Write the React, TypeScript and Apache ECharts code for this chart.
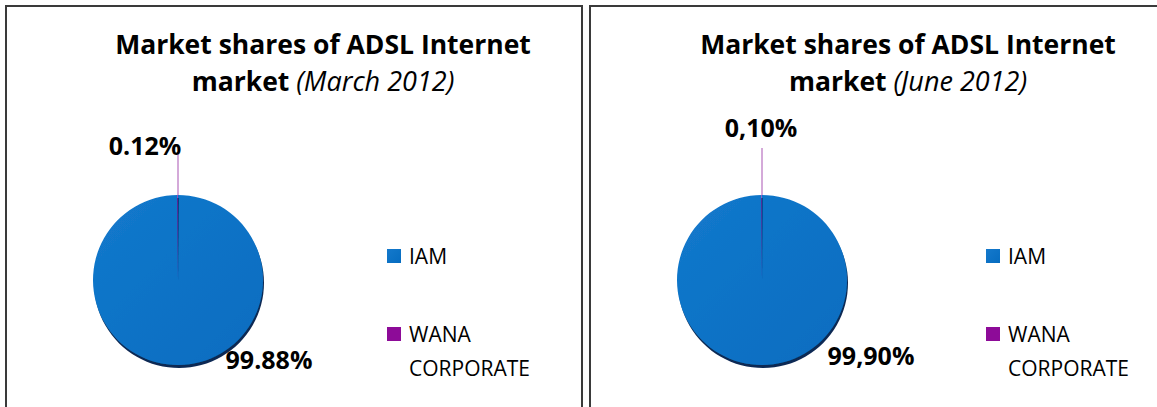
import React, { useEffect, useRef } from 'react';
import * as echarts from 'echarts';

const categories = ['IAM', 'WANA CORPORATE'];
const marchValues = [99.88, 0.12];
const juneValues = [99.9, 0.1];
const sliceColors = ['#0a71c6', '#8d0b98'];
const titleLine1 = 'Market shares of ADSL Internet';
const titleBold2 = 'market';
const periods = ['(March 2012)', '(June 2012)'];
const decimalSeparators = ['.', ','];

const FONT = '"Open Sans", Lato, sans-serif';

const panels = [
  { values: marchValues, period: periods[0], sep: decimalSeparators[0], titleX: 318, cx: 178, legendX: 387, wanaDx: -33, wanaDy: -50, lineLen: 41, iamDx: 91, iamDy: 78 },
  { values: juneValues, period: periods[1], sep: decimalSeparators[1], titleX: 903, cx: 762, legendX: 986, wanaDx: -1, wanaDy: -68, lineLen: 47, iamDx: 109, iamDy: 74 },
];

export default function App() {
  const ref = useRef<HTMLDivElement>(null);
  useEffect(() => {
    if (!ref.current) return;
    const chart = echarts.init(ref.current, undefined, { renderer: 'svg' });
    const option: any = {
      animation: false,
      backgroundColor: '#ffffff',
      title: panels.map((p) => ({
        text: `{b|${titleLine1}}\n{b|${titleBold2} }{i|${p.period}}`,
        left: p.titleX,
        textAlign: 'center',
        top: 20,
        textStyle: {
          rich: {
            b: { fontFamily: FONT, fontWeight: 'bold', fontSize: 26.5, color: '#000', lineHeight: 37 },
            i: { fontFamily: FONT, fontStyle: 'italic', fontWeight: 'normal', fontSize: 27, color: '#000', lineHeight: 37 },
          },
        },
      })),
      legend: panels.map((p) => ({
        orient: 'vertical',
        left: p.legendX,
        top: 239,
        height: 400,
        padding: 0,
        itemGap: 10,
        itemWidth: 14,
        itemHeight: 14,
        selectedMode: false,
        icon: 'path://M0,0h14v14h-14z',
        formatter: (name: string) => (name.indexOf(' ') >= 0 ? '\n' + name.replace(' ', '\n') : name),
        textStyle: { fontFamily: FONT, fontSize: 21, color: '#000', lineHeight: 34, padding: [0, 0, 0, 3] },
        data: categories,
      })),
      graphic: [
        { type: 'rect', shape: { x: 6, y: 6, width: 576, height: 430 }, style: { fill: 'none', stroke: '#3a3a3a', lineWidth: 2 }, silent: true },
        { type: 'rect', shape: { x: 590, y: 6, width: 620, height: 430 }, style: { fill: 'none', stroke: '#3a3a3a', lineWidth: 2 }, silent: true },
      ],
      series: panels.map((p) => ({
        type: 'pie',
        radius: 85,
        center: [p.cx, 280],
        startAngle: 90,
        clockwise: true,
        avoidLabelOverlap: false,
        itemStyle: {
          borderWidth: 0,
          shadowColor: 'rgba(0, 30, 75, 0.95)',
          shadowBlur: 1,
          shadowOffsetY: 3,
          shadowOffsetX: 1,
        },
        label: {
          position: 'outside',
          fontFamily: FONT,
          fontWeight: 'bold',
          fontSize: 25,
          color: '#000',
          formatter: (prm: any) => prm.value.toFixed(2).replace('.', p.sep) + '%',
        },
        labelLine: { show: true, length: 20, length2: 0, lineStyle: { color: '#a955b3', width: 1 } },
        labelLayout: (prm: any) => {
          const r = prm.rect;
          if (prm.dataIndex === 1) {
            const lx = r.x + r.width;
            const top = r.y;
            return {
              x: lx + p.wanaDx,
              y: top + p.wanaDy,
              align: 'center',
              verticalAlign: 'middle',
              labelLinePoints: [[lx, top], [lx, top - p.lineLen], [lx, top - p.lineLen]],
            };
          }
          return { x: r.x + r.width / 2 + p.iamDx, y: r.y + r.height / 2 + p.iamDy + 1, align: 'center', verticalAlign: 'middle' };
        },
        data: categories.map((name, i) => ({
          name,
          value: p.values[i],
          itemStyle: {
            color: i === 0
              ? new echarts.graphic.LinearGradient(0, 0, 1, 1, [
                  { offset: 0, color: '#1479cc' },
                  { offset: 1, color: '#066cc0' },
                ])
              : sliceColors[i],
          },
          labelLine: { show: i === 1 },
        })),
      })),
    };
    chart.setOption(option);
    return () => chart.dispose();
  }, []);
  return (
    <div
      ref={ref}
      style={{ position: 'fixed', left: 0, top: 0, width: 1157, height: 407, background: '#fff' }}
    />
  );
}
